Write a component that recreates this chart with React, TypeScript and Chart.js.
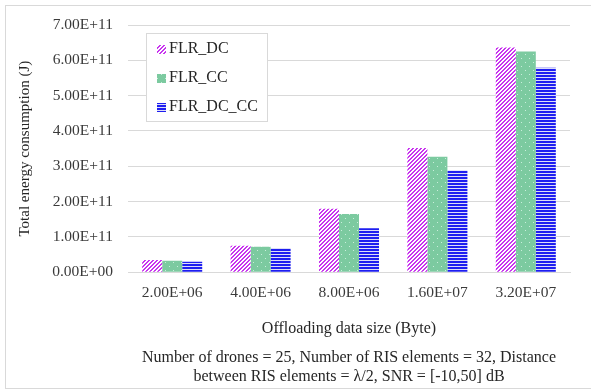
import { useEffect, useRef } from 'react';
import { Chart, registerables } from 'chart.js';

Chart.register(...registerables);

// Offloading data sizes (Byte) shown on the category axis
const categories = ['2.00E+06', '4.00E+06', '8.00E+06', '1.60E+07', '3.20E+07'];

// Total energy consumption (J) per scheme
const flrDC = [3.5e10, 7.5e10, 1.8e11, 3.52e11, 6.36e11];
const flrCC = [3.3e10, 7.2e10, 1.65e11, 3.27e11, 6.25e11];
const flrDCCC = [3.0e10, 6.9e10, 1.25e11, 2.89e11, 5.79e11];

const seriesNames = ['FLR_DC', 'FLR_CC', 'FLR_DC_CC'];

const yTitle = 'Total energy consumption (J)';
const xTitle = 'Offloading data size (Byte)';
const footnote = [
  'Number of drones = 25, Number of RIS elements = 32, Distance',
  'between RIS elements = \u03BB/2, SNR = [-10,50] dB',
];

const FONT = '"Liberation Serif", "Times New Roman", serif';
const TEXT = '#262626';
const TICK_TEXT = '#3a3a3a';
const GRID = '#d9d9d9';

function sci(v: number): string {
  const [m, e] = v.toExponential(2).split('e');
  const sign = e[0];
  const digits = e.slice(1).padStart(2, '0');
  return `${m}E${sign}${digits}`;
}

function tile(
  ctx: CanvasRenderingContext2D,
  w: number,
  h: number,
  paint: (g: CanvasRenderingContext2D) => void
): CanvasPattern {
  const c = document.createElement('canvas');
  c.width = w;
  c.height = h;
  const g = c.getContext('2d')!;
  paint(g);
  return ctx.createPattern(c, 'repeat')!;
}

// Upward diagonal purple stripes
function stripePattern(ctx: CanvasRenderingContext2D) {
  return tile(ctx, 8, 8, (g) => {
    g.fillStyle = '#ffffff';
    g.fillRect(0, 0, 8, 8);
    g.fillStyle = '#c834ef';
    for (let y = 0; y < 8; y++) {
      for (let x = 0; x < 8; x++) {
        if ((x + y) % 4 < 2) g.fillRect(x, y, 1, 1);
      }
    }
  });
}

// Green fill sprinkled with light dots
function dotPattern(ctx: CanvasRenderingContext2D) {
  return tile(ctx, 8, 8, (g) => {
    g.fillStyle = '#7ccaa0';
    g.fillRect(0, 0, 8, 8);
    g.fillStyle = '#c9eedb';
    g.fillRect(1, 2, 1, 1);
    g.fillRect(5, 6, 1, 1);
  });
}

// Horizontal blue lines
function linePattern(ctx: CanvasRenderingContext2D) {
  return tile(ctx, 4, 3, (g) => {
    g.fillStyle = '#1e1ef0';
    g.fillRect(0, 0, 4, 2);
    g.fillStyle = '#dcdcf8';
    g.fillRect(0, 2, 4, 1);
  });
}

// Boxed legend drawn inside the plot area, upper left
const insideLegend = {
  id: 'insideLegend',
  afterDraw(chart: any) {
    const { ctx, chartArea } = chart;
    const x0 = Math.round(chartArea.left + 18) + 0.5;
    const y0 = Math.round(chartArea.top + 8) + 0.5;
    const w = 121;
    const h = 88;
    ctx.save();
    ctx.fillStyle = '#ffffff';
    ctx.fillRect(x0, y0, w, h);
    ctx.strokeStyle = GRID;
    ctx.lineWidth = 1;
    ctx.strokeRect(x0, y0, w, h);
    ctx.font = `16px ${FONT}`;
    ctx.textBaseline = 'middle';
    ctx.textAlign = 'left';
    chart.data.datasets.forEach((ds: any, i: number) => {
      const cy = y0 + 15.5 + i * 29;
      ctx.fillStyle = ds.backgroundColor;
      ctx.fillRect(Math.round(x0 + 10), Math.round(cy - 4.5), 9, 9);
      ctx.fillStyle = TEXT;
      ctx.fillText(ds.label, x0 + 22.5, cy);
    });
    ctx.restore();
  },
};

export default function App() {
  const canvasRef = useRef<HTMLCanvasElement | null>(null);

  useEffect(() => {
    const canvas = canvasRef.current;
    if (!canvas) return;
    const ctx = canvas.getContext('2d')!;
    const fills = [stripePattern(ctx), dotPattern(ctx), linePattern(ctx)];
    const values = [flrDC, flrCC, flrDCCC];

    const chart = new Chart(ctx, {
      type: 'bar',
      data: {
        labels: categories,
        datasets: seriesNames.map((name, i) => ({
          label: name,
          data: values[i],
          backgroundColor: fills[i] as any,
          borderWidth: 0,
          categoryPercentage: 0.679,
          barPercentage: 1.0,
        })),
      },
      options: {
        responsive: false,
        animation: false,
        layout: { padding: { left: 0, right: 21, top: 25, bottom: 5.5 } },
        plugins: {
          legend: { display: false },
          tooltip: { enabled: false },
          title: { display: false },
          subtitle: {
            display: true,
            position: 'bottom',
            fullSize: false,
            text: footnote,
            color: TEXT,
            font: { family: FONT, size: 16, weight: 'normal', lineHeight: 19 / 16 },
            padding: { top: 9.9, bottom: 0 },
          },
        },
        scales: {
          x: {
            grid: { display: false, drawTicks: false },
            border: { display: true, color: GRID, width: 1 },
            ticks: {
              color: TICK_TEXT,
              font: { family: FONT, size: 15.5 },
              padding: 11.4,
              maxRotation: 0,
            },
            title: {
              display: true,
              text: xTitle,
              color: TEXT,
              font: { family: FONT, size: 16 },
              padding: { top: 5.7, bottom: 0 },
            },
          },
          y: {
            min: 0,
            max: 7e11,
            afterFit: (scale: any) => {
              scale.width = 128;
            },
            grid: { color: GRID, drawTicks: false, lineWidth: 1 },
            border: { display: false },
            ticks: {
              stepSize: 1e11,
              color: TICK_TEXT,
              font: { family: FONT, size: 15.5 },
              padding: 15,
              callback: (v: any) => sci(Number(v)),
            },
            title: {
              display: true,
              text: yTitle,
              color: TEXT,
              font: { family: FONT, size: 15 },
              padding: { top: 16, bottom: 0 },
            },
          },
        },
      },
      plugins: [insideLegend],
    });

    return () => chart.destroy();
  }, []);

  return (
    <div
      style={{
        position: 'fixed',
        left: 0,
        top: 0,
        width: 591,
        height: 392,
        background: '#ffffff',
        overflow: 'hidden',
      }}
    >
      <canvas
        ref={canvasRef}
        width={591}
        height={392}
        style={{ display: 'block', width: 591, height: 392 }}
      />
      <div
        style={{
          position: 'absolute',
          left: 5,
          top: 5,
          width: 600,
          height: 384,
          border: `1px solid ${GRID}`,
          boxSizing: 'border-box',
          pointerEvents: 'none',
        }}
      />
    </div>
  );
}
